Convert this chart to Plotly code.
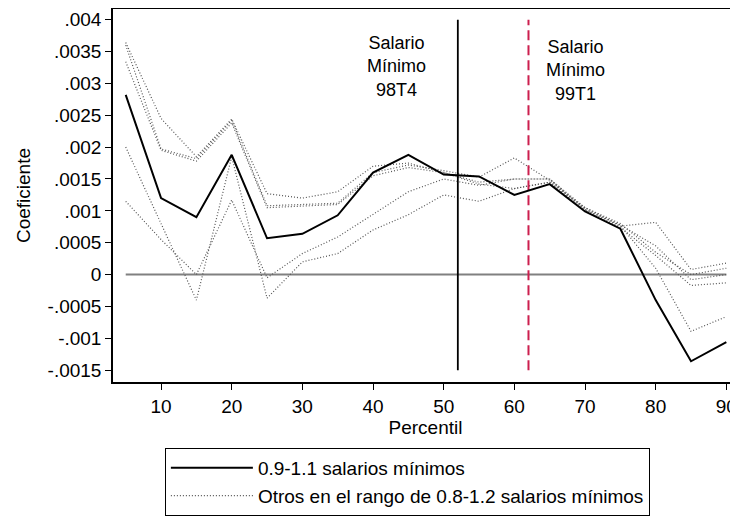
import plotly.graph_objects as go

# ---- data ----
percentil = [5, 10, 15, 20, 25, 30, 35, 40, 45, 50, 55, 60, 65, 70, 75, 80, 85, 90]

main_09_11 = [0.00282, 0.00120, 0.00090, 0.00188, 0.00057, 0.00064, 0.00093, 0.00160, 0.00188,
              0.00157, 0.00154, 0.00125, 0.00142, 0.00099, 0.00072, -0.00040, -0.00136, -0.00106]

otros_a = [0.00364, 0.00245, 0.00185, 0.00244, 0.00127, 0.00120, 0.00130, 0.00170, 0.00175,
           0.00160, 0.00145, 0.00150, 0.00150, 0.00105, 0.00080, 0.00035, 0.00000, 0.00010]
otros_b = [0.00360, 0.00197, 0.00182, 0.00242, 0.00108, 0.00110, 0.00112, 0.00160, 0.00172,
           0.00163, 0.00153, 0.00183, 0.00148, 0.00102, 0.00078, 0.00045, -0.00008, 0.00000]
otros_c = [0.00334, 0.00195, 0.00178, 0.00238, 0.00105, 0.00108, 0.00110, 0.00155, 0.00168,
           0.00160, 0.00142, 0.00135, 0.00145, 0.00100, 0.00074, 0.00030, -0.00017, -0.00013]
otros_d = [0.00200, 0.00080, -0.00040, 0.00185, -0.00037, 0.00020, 0.00033, 0.00070, 0.00094,
           0.00125, 0.00115, 0.00135, 0.00145, 0.00105, 0.00077, 0.00010, -0.00089, -0.00066]
otros_e = [0.00115, 0.00055, 0.00000, 0.00117, -0.00005, 0.00033, 0.00059, 0.00095, 0.00130,
           0.00150, 0.00140, 0.00150, 0.00150, 0.00102, 0.00076, 0.00082, 0.00008, 0.00018]
otros_series = [otros_a, otros_b, otros_c, otros_d, otros_e]

y_tickvals = [0.004, 0.0035, 0.003, 0.0025, 0.002, 0.0015, 0.001, 0.0005, 0, -0.0005, -0.001, -0.0015]
y_ticktext = [".004", ".0035", ".003", ".0025", ".002", ".0015", ".001", ".0005", "0",
              "-.0005", "-.001", "-.0015"]
x_tickvals = [10, 20, 30, 40, 50, 60, 70, 80, 90]

zero_line_x = [5, 90]
zero_line_y = [0, 0]
sm_98t4_x = 52
sm_99t1_x = 62
vline_y = [-0.0015, 0.004]

label_98t4 = "Salario<br>Mínimo<br>98T4"
label_99t1 = "Salario<br>Mínimo<br>99T1"

FONT = "Liberation Sans, Arial, Helvetica, sans-serif"

fig = go.Figure()

# zero reference line
fig.add_trace(go.Scatter(x=zero_line_x, y=zero_line_y, mode="lines",
                         line=dict(color="#808080", width=2), showlegend=False, hoverinfo="skip"))

# dotted comparison series
for i, s in enumerate(otros_series):
    fig.add_trace(go.Scatter(
        x=percentil, y=s, mode="lines",
        line=dict(color="#555555", width=1.2, dash="1px,2px"),
        name="Otros en el rango de 0.8-1.2 salarios mínimos",
        showlegend=(i == 0), legendrank=2, legendgroup="otros"))

# vertical reference lines
fig.add_trace(go.Scatter(x=[sm_98t4_x, sm_98t4_x], y=vline_y, mode="lines",
                         line=dict(color="black", width=1.8), showlegend=False, hoverinfo="skip"))
fig.add_trace(go.Scatter(x=[sm_99t1_x, sm_99t1_x], y=vline_y, mode="lines",
                         line=dict(color="#cc1f4e", width=2, dash="10px,5px"),
                         showlegend=False, hoverinfo="skip"))

# main series
fig.add_trace(go.Scatter(x=percentil, y=main_09_11, mode="lines",
                         line=dict(color="black", width=2),
                         name="0.9-1.1 salarios mínimos", legendrank=1))

annotations = [
    dict(x=43.3, y=0.00327, xref="x", yref="y", text=label_98t4, showarrow=False,
         xanchor="center", yanchor="middle", align="center", font=dict(size=18, color="black")),
    dict(x=68.6, y=0.00321, xref="x", yref="y", text=label_99t1, showarrow=False,
         xanchor="center", yanchor="middle", align="center", font=dict(size=18, color="black")),
]

# the page adds an 8px body margin, so the figure is sized to fit within the window
fig.update_layout(
    width=730, height=508,
    margin=dict(l=105, r=0, t=1, b=124),
    paper_bgcolor="white", plot_bgcolor="white",
    font=dict(family=FONT, size=19, color="black"),
    annotations=annotations,
    legend=dict(x=0.083, y=-0.178, xanchor="left", yanchor="top",
                bordercolor="black", borderwidth=1, bgcolor="white",
                font=dict(size=19), itemwidth=82, tracegroupgap=0),
    showlegend=True,
)

fig.update_xaxes(
    range=[3.2, 91.65], tickvals=x_tickvals, ticks="outside", ticklen=6, tickwidth=1,
    tickcolor="black", showline=True, linecolor="black", linewidth=1.5, mirror=True,
    showgrid=False, zeroline=False, automargin=False,
    title=dict(text="Percentil", font=dict(size=19), standoff=4),
)
fig.update_yaxes(
    range=[-0.001685, 0.004167], tickvals=y_tickvals, ticktext=y_ticktext,
    ticks="outside", ticklen=6, tickwidth=1, tickcolor="black",
    showline=True, linecolor="black", linewidth=1.5, mirror=False,
    showgrid=False, zeroline=False, automargin=False,
    title=dict(text="Coeficiente", font=dict(size=19), standoff=12),
)

fig.write_html("out.html")
